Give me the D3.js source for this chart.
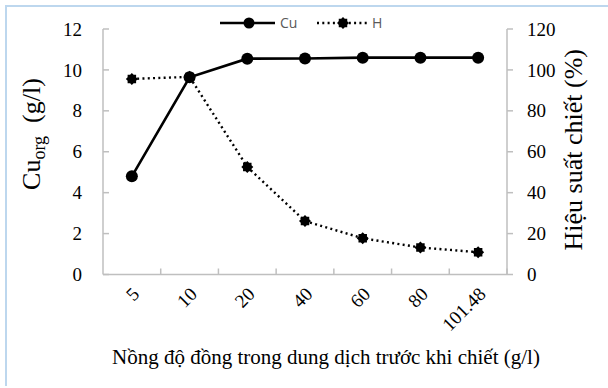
<!DOCTYPE html>
<html><head><meta charset="utf-8">
<script src="https://cdnjs.cloudflare.com/ajax/libs/d3/7.8.5/d3.min.js"></script>
<style>body{margin:0;background:#fff}svg{display:block}</style>
</head><body>
<script>
const categories = ["5","10","20","40","60","80","101.48"];
const cuValues = [4.8, 9.64, 10.55, 10.56, 10.6, 10.6, 10.6];
const hValues = [95.6, 96.6, 52.6, 26.1, 17.7, 13.2, 10.9];
const leftTicks = [0,2,4,6,8,10,12];
const rightTicks = [0,20,40,60,80,100,120];

const SERIF = "'Liberation Serif', 'Times New Roman', 'DejaVu Serif', serif";
const W = 608, H = 388;
const svg = d3.select("body").append("svg").attr("width", W).attr("height", H);
svg.append("rect").attr("width", W).attr("height", H).attr("fill", "#fff");

svg.append("rect").attr("x",5).attr("y",5).attr("width",W-5).attr("height",2).attr("fill","#bdd7ee");
svg.append("rect").attr("x",5).attr("y",5).attr("width",2).attr("height",381).attr("fill","#bdd7ee");

const pLeft = 103, pRight = 507, pTop = 29, pBottom = 274.5;
const x = d3.scaleBand().domain(categories).range([pLeft, pRight]).paddingInner(0).paddingOuter(0);
const yL = d3.scaleLinear().domain([0,12]).range([pBottom, pTop]);
const yR = d3.scaleLinear().domain([0,120]).range([pBottom, pTop]);

const axisColor = "#bfbfbf";
const g = svg.append("g");
g.append("line").attr("x1",pLeft).attr("x2",pLeft).attr("y1",pTop).attr("y2",pBottom).attr("stroke",axisColor).attr("stroke-width",1.5);
g.append("line").attr("x1",pRight).attr("x2",pRight).attr("y1",pTop).attr("y2",pBottom).attr("stroke",axisColor).attr("stroke-width",1.5);
g.append("line").attr("x1",pLeft).attr("x2",pRight).attr("y1",pBottom).attr("y2",pBottom).attr("stroke",axisColor).attr("stroke-width",1.5);

leftTicks.forEach(t => {
  g.append("line").attr("x1",pLeft).attr("x2",pLeft+6).attr("y1",yL(t)).attr("y2",yL(t)).attr("stroke",axisColor).attr("stroke-width",1.5);
  g.append("text").attr("x",82).attr("y",yL(t)).attr("dy","0.35em").attr("text-anchor","end")
   .style("font-family",SERIF).attr("font-size",19).attr("fill","#000").text(t);
});
rightTicks.forEach(t => {
  g.append("line").attr("x1",pRight).attr("x2",pRight+6).attr("y1",yR(t)).attr("y2",yR(t)).attr("stroke",axisColor).attr("stroke-width",1.5);
  g.append("text").attr("x",527).attr("y",yR(t)).attr("dy","0.35em").attr("text-anchor","start")
   .style("font-family",SERIF).attr("font-size",19).attr("fill","#000").text(t);
});
categories.forEach((c,i) => {
  const xe = x(c) + x.bandwidth();
  g.append("line").attr("x1",xe).attr("x2",xe).attr("y1",pBottom).attr("y2",pBottom-6).attr("stroke",axisColor).attr("stroke-width",1.5);
  const cxx = x(c) + x.bandwidth()/2;
  g.append("text").attr("transform",`translate(${cxx+4},${pBottom+16}) rotate(-45)`)
   .attr("text-anchor","end").attr("dy","0.35em")
   .style("font-family",SERIF).attr("font-size",19).attr("fill","#000").text(c);
});

const lt = svg.append("text").attr("transform",`translate(40,134) rotate(-90)`)
  .attr("text-anchor","middle").style("font-family",SERIF).attr("font-size",26).attr("fill","#000");
lt.append("tspan").text("Cu");
lt.append("tspan").attr("dy",5).attr("font-size",18).text("org");
lt.append("tspan").attr("dy",-5).text("\u00a0 (g/l)");

svg.append("text").attr("transform",`translate(582,${(pTop+pBottom)/2-2}) rotate(-90)`)
  .attr("text-anchor","middle").style("font-family",SERIF).attr("font-size",26).attr("fill","#000")
  .text("Hiệu suất chiết (%)");

svg.append("text").attr("x",(92+560)/2).attr("y",364).attr("text-anchor","middle")
  .style("font-family",SERIF).attr("font-size",21).attr("fill","#000")
  .text("Nồng độ đồng trong dung dịch trước khi chiết (g/l)");

function starPath(r1, r2, n) {
  const pts = [];
  for (let i = 0; i < 2*n; i++) {
    const a = Math.PI * i / n;
    const r = i % 2 === 0 ? r1 : r2;
    pts.push([r*Math.cos(a), r*Math.sin(a)]);
  }
  return "M" + pts.map(p => p.join(",")).join("L") + "Z";
}
const hMarker = starPath(6, 4.6, 8);

const cx = c => x(c) + x.bandwidth()/2;
const lineH = d3.line().x((d,i) => cx(categories[i])).y(d => yR(d));
svg.append("path").datum(hValues).attr("d", lineH).attr("fill","none").attr("stroke","#000")
  .attr("stroke-width",2.4).attr("stroke-dasharray","2,3.3");
svg.selectAll(".hm").data(hValues).enter().append("path")
  .attr("transform",(d,i) => `translate(${cx(categories[i])},${yR(d)})`)
  .attr("d", hMarker).attr("fill","#000");

const lineCu = d3.line().x((d,i) => cx(categories[i])).y(d => yL(d));
svg.append("path").datum(cuValues).attr("d", lineCu).attr("fill","none").attr("stroke","#000").attr("stroke-width",2.6);
svg.selectAll(".cm").data(cuValues).enter().append("circle")
  .attr("cx",(d,i) => cx(categories[i])).attr("cy", d => yL(d)).attr("r",6).attr("fill","#000");

const ly = 23;
svg.append("line").attr("x1",220).attr("x2",275).attr("y1",ly).attr("y2",ly).attr("stroke","#000").attr("stroke-width",2.6);
svg.append("circle").attr("cx",249).attr("cy",ly).attr("r",5.5).attr("fill","#000");
svg.append("text").attr("x",280).attr("y",ly).attr("dy","0.35em").style("font-family","'Open Sans', sans-serif").attr("font-size",14).attr("fill","#595959").text("Cu");
svg.append("line").attr("x1",317).attr("x2",370).attr("y1",ly).attr("y2",ly).attr("stroke","#000").attr("stroke-width",2.4).attr("stroke-dasharray","2,3.3");
svg.append("path").attr("transform",`translate(343,${ly})`).attr("d",hMarker).attr("fill","#000");
svg.append("text").attr("x",372).attr("y",ly).attr("dy","0.35em").style("font-family","'Open Sans', sans-serif").attr("font-size",14).attr("fill","#595959").text("H");
</script>
</body></html>
